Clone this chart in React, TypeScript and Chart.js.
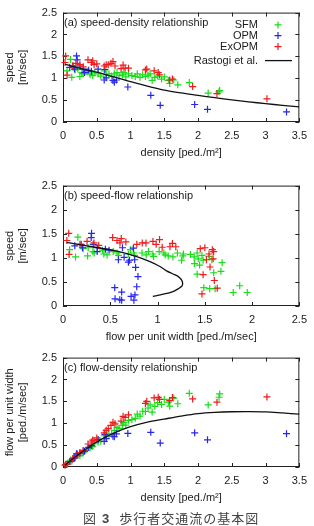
import { useEffect, useRef } from "react";
import { Chart, registerables } from "chart.js";

Chart.register(...registerables);

const FONT_FAMILY = '"Liberation Sans", Arial, Helvetica, sans-serif';
const TEXT_COLOR = "#1a1a1a";
const FRAME_COLOR = "#222222";

// Simulated crowd samples: density [ped./m2] and walking speed [m/sec].
// Flow per unit width is density x speed.
const sfmDensity = [
  0.06, 0.11, 0.13, 0.18, 0.22, 0.25, 0.28, 0.3, 0.36, 0.4, 0.44, 0.47, 0.52, 0.56, 0.61, 0.64,
  0.68, 0.72, 0.76, 0.8, 0.83, 0.88, 0.9, 0.93, 0.97, 1.02, 1.07, 1.1, 1.14, 1.18, 1.22, 1.26,
  1.29, 1.32, 1.36, 1.4, 1.46, 1.5, 1.56, 1.58, 1.64, 1.7, 1.87, 2.15, 2.31, 2.32,
  3.92, 4.31, 4.47, 6.43, 4.45, 6.96,
];
const sfmSpeed = [
  1.17, 1.43, 1.02, 1.19, 1.21, 1.04, 1.13, 1.1, 1.16, 1.08, 1.06, 1.13, 1.1, 1.05, 1.17, 1.08,
  1.1, 1.05, 1.1, 1.13, 1.06, 1.08, 1.13, 1.03, 1.1, 1.06, 1.04, 1.1, 1.02, 1.08, 1.04, 1.07,
  1.1, 0.95, 1.02, 1.05, 0.98, 1.03, 0.95, 0.88, 0.96, 0.85, 0.9, 0.66, 0.69, 0.72,
  0.38, 0.36, 0.36, 0.28, 0.42, 0.28,
];

const opmDensity = [
  0.1, 0.15, 0.17, 0.2, 0.21, 0.25, 0.3, 0.32, 0.38, 0.42, 0.52, 0.62, 0.61, 0.64, 0.74, 0.76,
  0.79, 0.96, 1.3, 1.44, 1.95, 2.14, 3.31, 3.67, 4.62, 5.17, 6.25, 3.6,
];
const opmSpeed = [
  1.25, 1.28, 1.21, 1.51, 1.42, 1.28, 1.21, 1.13, 1.18, 1.16, 1.21, 1.2, 0.96, 1.01, 0.95, 0.91,
  0.96, 0.8, 0.61, 0.38, 0.4, 0.29, 0.23, 0.15, 0.13, 0.12, 0.12, 0.2,
];

const exopmDensity = [
  0.03, 0.04, 0.06, 0.14, 0.19, 0.25, 0.3, 0.37, 0.42, 0.44, 0.46, 0.5, 0.61, 0.64, 0.67, 0.71,
  0.74, 0.77, 0.86, 0.89, 0.92, 0.97, 1.22, 1.24, 1.35, 1.41, 1.43, 1.58, 1.62, 1.92, 2.28, 3.02,
  4.41, 5.88,
];
const exopmSpeed = [
  1.36, 1.51, 1.07, 1.28, 1.34, 1.31, 1.26, 1.42, 1.36, 1.4, 1.31, 1.33, 1.28, 1.31, 1.31, 1.34,
  1.38, 1.28, 1.22, 1.3, 1.23, 1.23, 1.19, 1.21, 1.17, 1.13, 1.08, 0.96, 0.98, 0.81, 0.65, 0.53,
  0.37, 0.25,
];

// Rastogi et al. fundamental diagram, speed against density
const rastogiDensity = [
  0.03, 0.1, 0.25, 0.5, 0.75, 1.0, 1.25, 1.5, 1.75, 2.0, 2.25, 2.5, 2.75, 3.0, 3.25, 3.5, 3.75,
  4.0, 4.25, 4.5, 4.75,
];
const rastogiSpeed = [
  1.32, 1.29, 1.23, 1.14, 1.03, 0.92, 0.82, 0.73, 0.665, 0.61, 0.555, 0.505, 0.46, 0.42, 0.38,
  0.345, 0.315, 0.285, 0.255, 0.225, 0.2,
];

const densityTicks = [0, 0.5, 1, 1.5, 2, 2.5, 3, 3.5];
const densityTickLabels = ["0", "0.5", "1", "1.5", "2", "2.5", "3", "3.5"];
const speedTicks = [0, 0.5, 1, 1.5, 2, 2.5];
const speedTickLabels = ["0", "0.5", "1", "1.5", "2", "2.5"];
const flowTicks = [0, 0.5, 1, 1.5, 2, 2.5];
const flowTickLabels = ["0", "0.5", "1", "1.5", "2", "2.5"];

const seriesLabels = ["SFM", "OPM", "ExOPM", "Rastogi et al."];
const seriesColors = ["#18dd18", "#2626ea", "#ee1c1c", "#111111"];

type Quantity = "density" | "speed" | "flow";

const measure = (q: Quantity, k: number, v: number) =>
  q === "density" ? k : q === "speed" ? v : k * v;

function toPoints(density: number[], speed: number[], xq: Quantity, yq: Quantity) {
  return density.map((k, i) => ({ x: measure(xq, k, speed[i]), y: measure(yq, k, speed[i]) }));
}

const font = { family: FONT_FAMILY, size: 11 };

// Box frame, inward tick marks, panel caption and key.
const framePlugin = {
  id: "frame",
  beforeDatasetsDraw(chart: any) {
    const { ctx, chartArea } = chart;
    const { left, top, right, bottom } = chartArea;
    ctx.save();
    ctx.strokeStyle = FRAME_COLOR;
    ctx.lineWidth = 1;
    ctx.strokeRect(left + 0.5, top + 0.5, right - left - 1, bottom - top - 1);
    const tl = 4;
    ctx.beginPath();
    for (const t of chart.scales.x.ticks) {
      const px = Math.round(chart.scales.x.getPixelForValue(t.value)) + 0.5;
      ctx.moveTo(px, bottom);
      ctx.lineTo(px, bottom - tl);
      ctx.moveTo(px, top);
      ctx.lineTo(px, top + tl);
    }
    for (const t of chart.scales.y.ticks) {
      const py = Math.round(chart.scales.y.getPixelForValue(t.value)) + 0.5;
      ctx.moveTo(left, py);
      ctx.lineTo(left + tl, py);
      ctx.moveTo(right, py);
      ctx.lineTo(right - tl, py);
    }
    ctx.stroke();
    ctx.restore();
  },
  afterDatasetsDraw(chart: any, _args: any, opts: any) {
    const { ctx, chartArea } = chart;
    ctx.save();
    ctx.font = `11px ${FONT_FAMILY}`;
    ctx.fillStyle = TEXT_COLOR;
    ctx.textBaseline = "middle";
    ctx.textAlign = "left";
    ctx.fillText(opts.caption, chartArea.left + 1, chartArea.top + 10);
    if (opts.showKey) {
      const rows = [12.3, 23, 34, 48];
      chart.data.datasets.forEach((ds: any, i: number) => {
        const y = chartArea.top + rows[i];
        ctx.textAlign = "right";
        ctx.fillStyle = TEXT_COLOR;
        ctx.fillText(ds.label, 258, y);
        ctx.strokeStyle = ds.borderColor;
        ctx.beginPath();
        if (ds.showLine) {
          ctx.lineWidth = 1.3;
          ctx.moveTo(265, y);
          ctx.lineTo(292, y);
        } else {
          ctx.lineWidth = 1.2;
          ctx.moveTo(278 - 3.5, y);
          ctx.lineTo(278 + 3.5, y);
          ctx.moveTo(278, y - 3.5);
          ctx.lineTo(278, y + 3.5);
        }
        ctx.stroke();
      });
    }
    ctx.restore();
  },
};

type PanelSpec = {
  top: number;
  height: number;
  caption: string;
  xq: Quantity;
  yq: Quantity;
  xTicks: number[];
  xTickLabels: string[];
  yTicks: number[];
  yTickLabels: string[];
  xTitle: string;
  yTitle: string[];
  showKey: boolean;
};

const panels: PanelSpec[] = [
  {
    top: 0,
    height: 162,
    caption: "(a) speed-density relationship",
    xq: "density",
    yq: "speed",
    xTicks: densityTicks,
    xTickLabels: densityTickLabels,
    yTicks: speedTicks,
    yTickLabels: speedTickLabels,
    xTitle: "density [ped./m²]",
    yTitle: ["speed", "[m/sec]"],
    showKey: true,
  },
  {
    top: 173,
    height: 173,
    caption: "(b) speed-flow relationship",
    xq: "flow",
    yq: "speed",
    xTicks: flowTicks,
    xTickLabels: flowTickLabels,
    yTicks: speedTicks,
    yTickLabels: speedTickLabels,
    xTitle: "flow per unit width [ped./m/sec]",
    yTitle: ["speed", "[m/sec]"],
    showKey: false,
  },
  {
    top: 345,
    height: 162,
    caption: "(c) flow-density relationship",
    xq: "density",
    yq: "flow",
    xTicks: densityTicks,
    xTickLabels: densityTickLabels,
    yTicks: flowTicks,
    yTickLabels: flowTickLabels,
    xTitle: "density [ped./m²]",
    yTitle: ["flow per unit width", "[ped./m/sec]"],
    showKey: false,
  },
];

function Panel({ spec }: { spec: PanelSpec }) {
  const ref = useRef<HTMLCanvasElement>(null);

  useEffect(() => {
    if (!ref.current) return;
    const xMax = spec.xTicks[spec.xTicks.length - 1];
    const yMax = spec.yTicks[spec.yTicks.length - 1];
    const inRange = (p: { x: number; y: number }) => p.x >= 0 && p.x <= xMax && p.y >= 0 && p.y <= yMax;

    const groups = [
      { density: sfmDensity, speed: sfmSpeed, order: 4 },
      { density: opmDensity, speed: opmSpeed, order: 3 },
      { density: exopmDensity, speed: exopmSpeed, order: 2 },
    ];

    const datasets: any[] = groups.map((g, i) => ({
      label: seriesLabels[i],
      data: toPoints(g.density, g.speed, spec.xq, spec.yq).filter(inRange),
      borderColor: seriesColors[i],
      backgroundColor: seriesColors[i],
      pointStyle: "cross",
      pointRadius: 3.5,
      pointBorderWidth: 1.2,
      borderWidth: 1.2,
      showLine: false,
      order: g.order,
      clip: 6,
    }));
    datasets.push({
      label: seriesLabels[3],
      data: toPoints(rastogiDensity, rastogiSpeed, spec.xq, spec.yq),
      borderColor: seriesColors[3],
      backgroundColor: seriesColors[3],
      showLine: true,
      pointRadius: 0,
      borderWidth: 1.3,
      tension: 0.3,
      order: 1,
      clip: 0,
    });

    const chart = new Chart(ref.current, {
      type: "scatter",
      data: { datasets },
      plugins: [framePlugin],
      options: {
        animation: false,
        responsive: false,
        events: [],
        layout: { padding: { top: 11, right: 10, left: 0, bottom: 0 } },
        plugins: {
          legend: { display: false },
          tooltip: { enabled: false },
          frame: { caption: spec.caption, showKey: spec.showKey },
        } as any,
        scales: {
          x: {
            type: "linear",
            min: 0,
            max: xMax,
            afterBuildTicks: (s: any) => {
              s.ticks = spec.xTicks.map((v) => ({ value: v }));
            },
            afterFit: (s: any) => {
              s.height = 40;
            },
            grid: { display: false, drawTicks: false },
            border: { display: false },
            ticks: {
              padding: 7,
              font,
              color: TEXT_COLOR,
              maxRotation: 0,
              autoSkip: false,
              callback: (_v: any, i: number) => spec.xTickLabels[i],
            },
            title: {
              display: true,
              text: spec.xTitle,
              font,
              color: TEXT_COLOR,
              padding: { top: 0, bottom: 2 },
            },
          },
          y: {
            type: "linear",
            min: 0,
            max: yMax,
            afterBuildTicks: (s: any) => {
              s.ticks = spec.yTicks.map((v) => ({ value: v }));
            },
            afterFit: (s: any) => {
              s.width = 63;
            },
            grid: { display: false, drawTicks: false },
            border: { display: false },
            ticks: {
              padding: 6,
              font,
              color: TEXT_COLOR,
              autoSkip: false,
              callback: (_v: any, i: number) => spec.yTickLabels[i],
            },
            title: {
              display: true,
              text: spec.yTitle,
              font: { ...font, lineHeight: 1.15 },
              color: TEXT_COLOR,
              padding: { top: 4, bottom: 0 },
            },
          },
        },
      } as any,
    });
    return () => chart.destroy();
  }, [spec]);

  return (
    <canvas
      ref={ref}
      width={314}
      height={spec.height}
      style={{ position: "absolute", left: 0, top: spec.top, width: 314, height: spec.height }}
    />
  );
}

export default function App() {
  return (
    <div style={{ position: "absolute", left: 0, top: 0, width: 314, height: 526, background: "#fff" }}>
      {panels.map((p) => (
        <Panel key={p.caption} spec={p} />
      ))}
      <div
        style={{
          position: "absolute",
          left: 83,
          top: 509,
          whiteSpace: "nowrap",
          fontFamily: '"Noto Sans CJK JP", sans-serif',
          fontSize: 13,
          lineHeight: "18px",
          color: "#444",
        }}
      >
        <span>図</span>
        <span style={{ marginLeft: 6, fontWeight: 700, fontFamily: FONT_FAMILY }}>3</span>
        <span style={{ marginLeft: 10, letterSpacing: 1 }}>歩行者交通流の基本図</span>
      </div>
    </div>
  );
}
